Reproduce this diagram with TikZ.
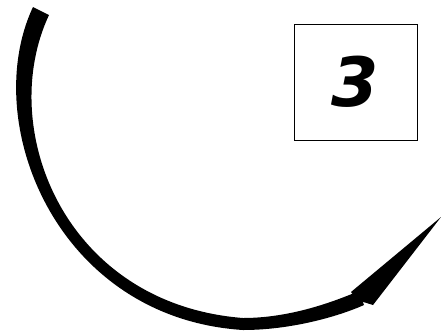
\documentclass[tikz,border=0pt]{standalone}
\usepackage{fontspec}
\newfontfamily\numfont{DejaVu Sans}
\begin{document}
\begin{tikzpicture}[x=1pt,y=-1pt,
  numbox/.style={draw=black, line width=1pt, minimum width=123pt, minimum height=116pt, inner sep=0pt, font=\numfont\bfseries\itshape\fontsize{68}{68}\selectfont},
  sweep/.style={fill=black, draw=none}]
\useasboundingbox (0,0) rectangle (441,333);
\node[numbox] (box) at (355.5,82) {3};
\coordinate (startout) at (33,7);
\coordinate (startin) at (49,15);
\coordinate (tip) at (441,217);
\coordinate (barbL) at (351,292);
\coordinate (barbR) at (373,305);
\fill[sweep] (startout) .. controls (-21,122) and (56,318) .. (243,330)
  .. controls (290,330) and (337,317) .. (364,305)
  -- (359,291)
  .. controls (333,302) and (290,318) .. (243,318)
  .. controls (64,304) and (-4,128) .. (startin) -- cycle;
\fill[black] (barbL) -- (tip) -- (barbR) -- (357,300) -- cycle;
\end{tikzpicture}
\end{document}
